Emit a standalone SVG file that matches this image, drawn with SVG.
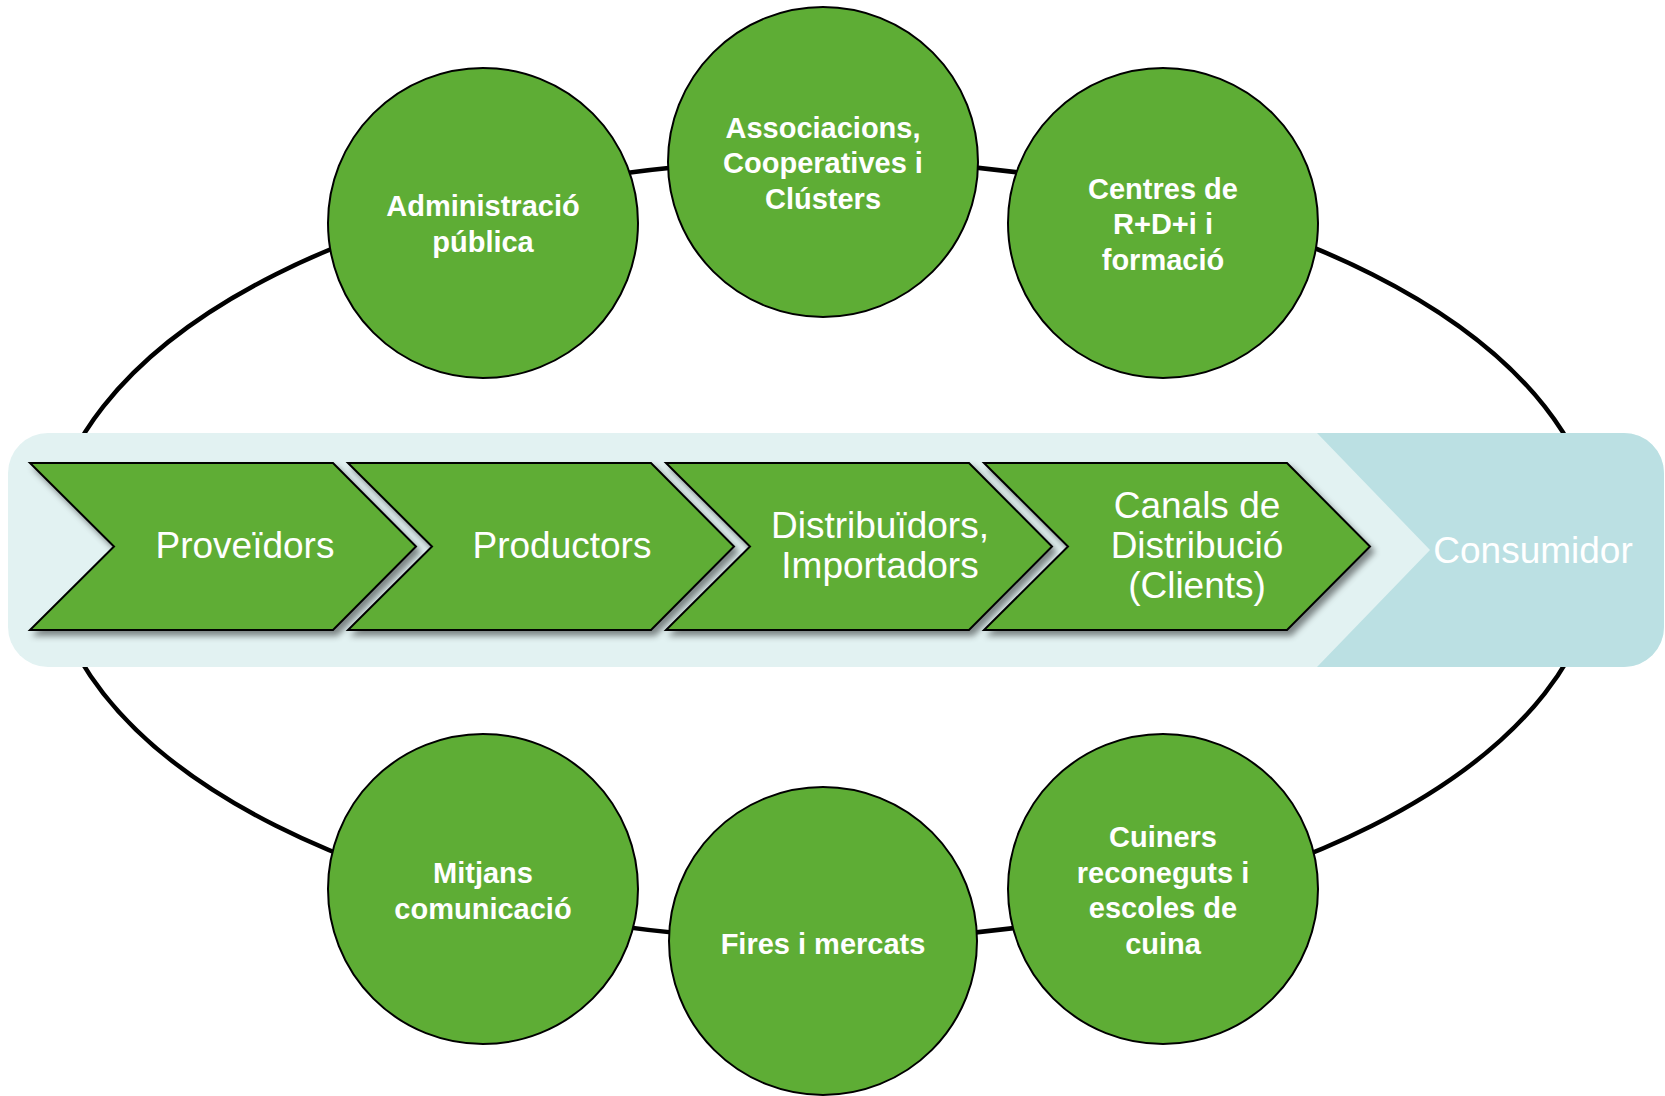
<svg xmlns="http://www.w3.org/2000/svg" width="1665" height="1096" viewBox="0 0 1665 1096">
<style>
.ring{fill:none;stroke:#000;stroke-width:4.5}
.circ{fill:#5EAD35;stroke:#000;stroke-width:2}
.chev{fill:#5EAD35;stroke:#000;stroke-width:2;stroke-linejoin:miter}
.ct{font-family:"Liberation Sans",Arial,sans-serif;font-weight:bold;font-size:29px;fill:#fff;text-anchor:middle}
.vt{font-family:"Liberation Sans",Arial,sans-serif;font-size:37px;fill:#fff;text-anchor:middle}
</style>
<defs>
<filter id="sh" x="-10%" y="-10%" width="130%" height="130%">
<feDropShadow dx="4" dy="5" stdDeviation="3" flood-color="#000" flood-opacity="0.45"/>
</filter>
<path id="chv" d="M0,463 L303,463 L386,546.5 L303,630 L0,630 L84,546.5 Z"/>
</defs>
<rect width="1665" height="1096" fill="#fff"/>
<g id="connectors">
<ellipse class="ring" cx="824" cy="550" rx="775" ry="390"/>
</g>
<g id="band">
<rect x="8" y="433" width="1656" height="234" rx="40" ry="40" fill="#E2F2F2"/>
<path d="M1317,433 L1624,433 A40,40 0 0 1 1664,473 L1664,627 A40,40 0 0 1 1624,667 L1317,667 L1430,550 Z" fill="#BBE0E3"/>
</g>
<g id="consumidor">
<text class="vt" x="1533" y="563">Consumidor</text>
</g>
<g id="proveidors">
<use href="#chv" class="chev" x="30" filter="url(#sh)"/>
<text class="vt" x="245" y="557.5">Proveïdors</text>
</g>
<g id="productors">
<use href="#chv" class="chev" x="348" filter="url(#sh)"/>
<text class="vt" x="562" y="557.5">Productors</text>
</g>
<g id="distribuidors">
<use href="#chv" class="chev" x="666" filter="url(#sh)"/>
<text class="vt" x="880" y="537.5">Distribuïdors,</text>
<text class="vt" x="880" y="577.5">Importadors</text>
</g>
<g id="canals">
<use href="#chv" class="chev" x="984" filter="url(#sh)"/>
<text class="vt" x="1197" y="517.5">Canals de</text>
<text class="vt" x="1197" y="557.5">Distribució</text>
<text class="vt" x="1197" y="597.5">(Clients)</text>
</g>
<g id="administracio">
<circle class="circ" cx="483" cy="223" r="155"/>
<text class="ct" x="483" y="216">Administració</text>
<text class="ct" x="483" y="252">pública</text>
</g>
<g id="associacions">
<circle class="circ" cx="823" cy="162" r="155"/>
<text class="ct" x="823" y="137.5">Associacions,</text>
<text class="ct" x="823" y="173">Cooperatives i</text>
<text class="ct" x="823" y="208.5">Clústers</text>
</g>
<g id="centres">
<circle class="circ" cx="1163" cy="223" r="155"/>
<text class="ct" x="1163" y="198.5">Centres de</text>
<text class="ct" x="1163" y="234">R+D+i i</text>
<text class="ct" x="1163" y="269.5">formació</text>
</g>
<g id="mitjans">
<circle class="circ" cx="483" cy="889" r="155"/>
<text class="ct" x="483" y="883">Mitjans</text>
<text class="ct" x="483" y="918.5">comunicació</text>
</g>
<g id="fires">
<circle class="circ" cx="823" cy="941" r="154"/>
<text class="ct" x="823" y="954">Fires i mercats</text>
</g>
<g id="cuiners">
<circle class="circ" cx="1163" cy="889" r="155"/>
<text class="ct" x="1163" y="847">Cuiners</text>
<text class="ct" x="1163" y="882.5">reconeguts i</text>
<text class="ct" x="1163" y="918">escoles de</text>
<text class="ct" x="1163" y="953.5">cuina</text>
</g>
</svg>
